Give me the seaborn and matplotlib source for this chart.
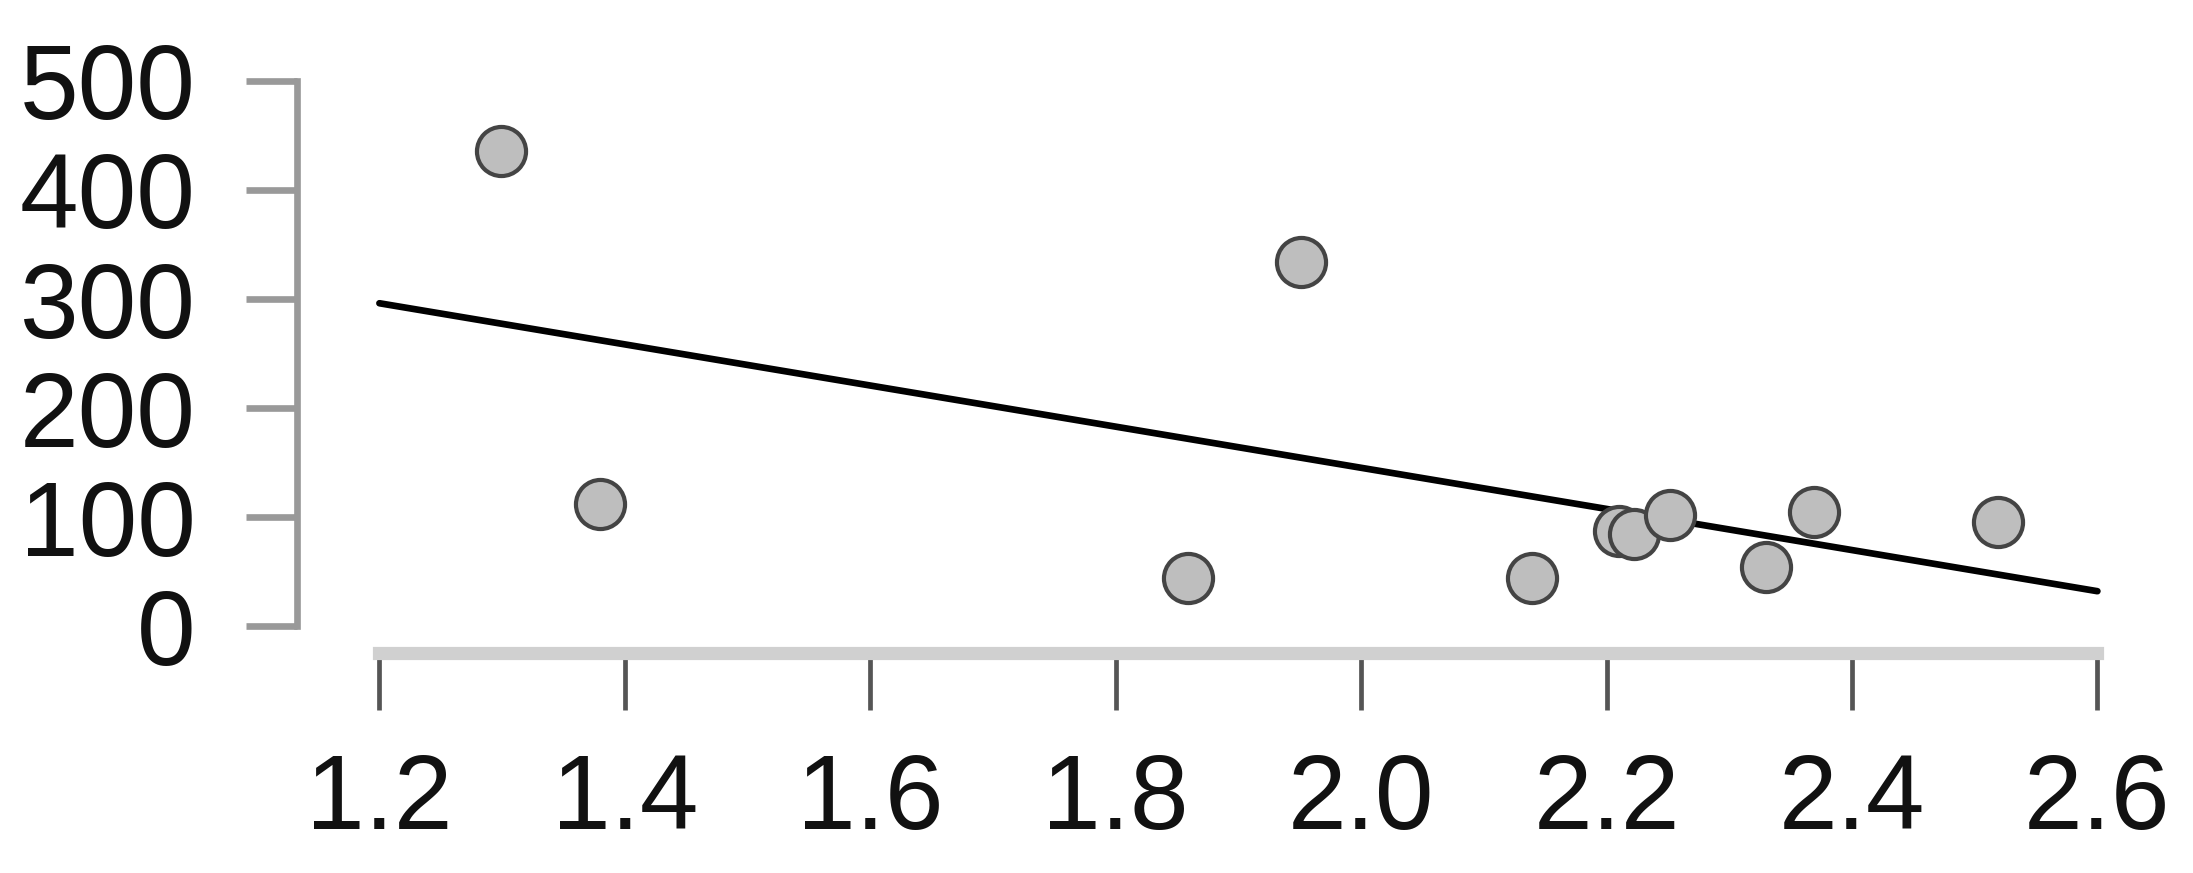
import numpy as np
import matplotlib
matplotlib.use("Agg")
import matplotlib.pyplot as plt
import seaborn as sns
import pandas as pd

# values
x_vals = [1.299, 1.380, 1.859, 1.951, 2.139, 2.210, 2.222, 2.252, 2.330, 2.369, 2.519]
y_vals = [435.7, 112.2, 44.3, 333.9, 44.3, 87.0, 84.2, 102.0, 54.6, 104.8, 95.7]
x_ticks = [1.2, 1.4, 1.6, 1.8, 2.0, 2.2, 2.4, 2.6]
y_ticks = [0, 100, 200, 300, 400, 500]

df = pd.DataFrame({"x": x_vals, "y": y_vals})

sns.set_style("white")
plt.rcParams['font.family'] = ['Liberation Sans', 'DejaVu Sans']

fig = plt.figure(figsize=(21.93, 8.73), dpi=100)
ax = fig.add_axes([0.1354, 0.252, 0.8322, 0.668])

# line spans the tick range, so set that range before drawing the fit
ax.set_xlim(x_ticks[0], x_ticks[-1])
sns.regplot(data=df, x="x", y="y", ax=ax, ci=None, truncate=False,
            scatter_kws=dict(s=1250, color="#bebebe", edgecolor="#444444",
                             linewidths=3, alpha=1, zorder=3),
            line_kws=dict(color="black", lw=4.8, zorder=2))

ax.set_xlim(1.1328, 2.62)
ax.set_ylim(-24.4, 510)

ax.set_xticks(x_ticks)
ax.set_xticklabels([f"{t:.1f}" for t in x_ticks])
ax.set_yticks(y_ticks)
ax.set_yticklabels([str(t) for t in y_ticks])
ax.set_xlabel("")
ax.set_ylabel("")

sns.despine(ax=ax, top=True, right=True)
ax.spines["left"].set_bounds(0, 500)
ax.spines["left"].set_color("#999999")
ax.spines["left"].set_linewidth(4.8)
ax.spines["bottom"].set_bounds(1.2, 2.6)
ax.spines["bottom"].set_color("#d0d0d0")
ax.spines["bottom"].set_linewidth(9.5)

ax.tick_params(axis="y", direction="out", length=36.7, width=4.8,
               color="#999999", pad=36, labelsize=76, labelcolor="#111111", left=True)
ax.tick_params(axis="x", direction="out", length=41, width=3.4,
               color="#555555", pad=30, labelsize=76, labelcolor="#111111", bottom=True)

fig.savefig("out.png", dpi=100)
